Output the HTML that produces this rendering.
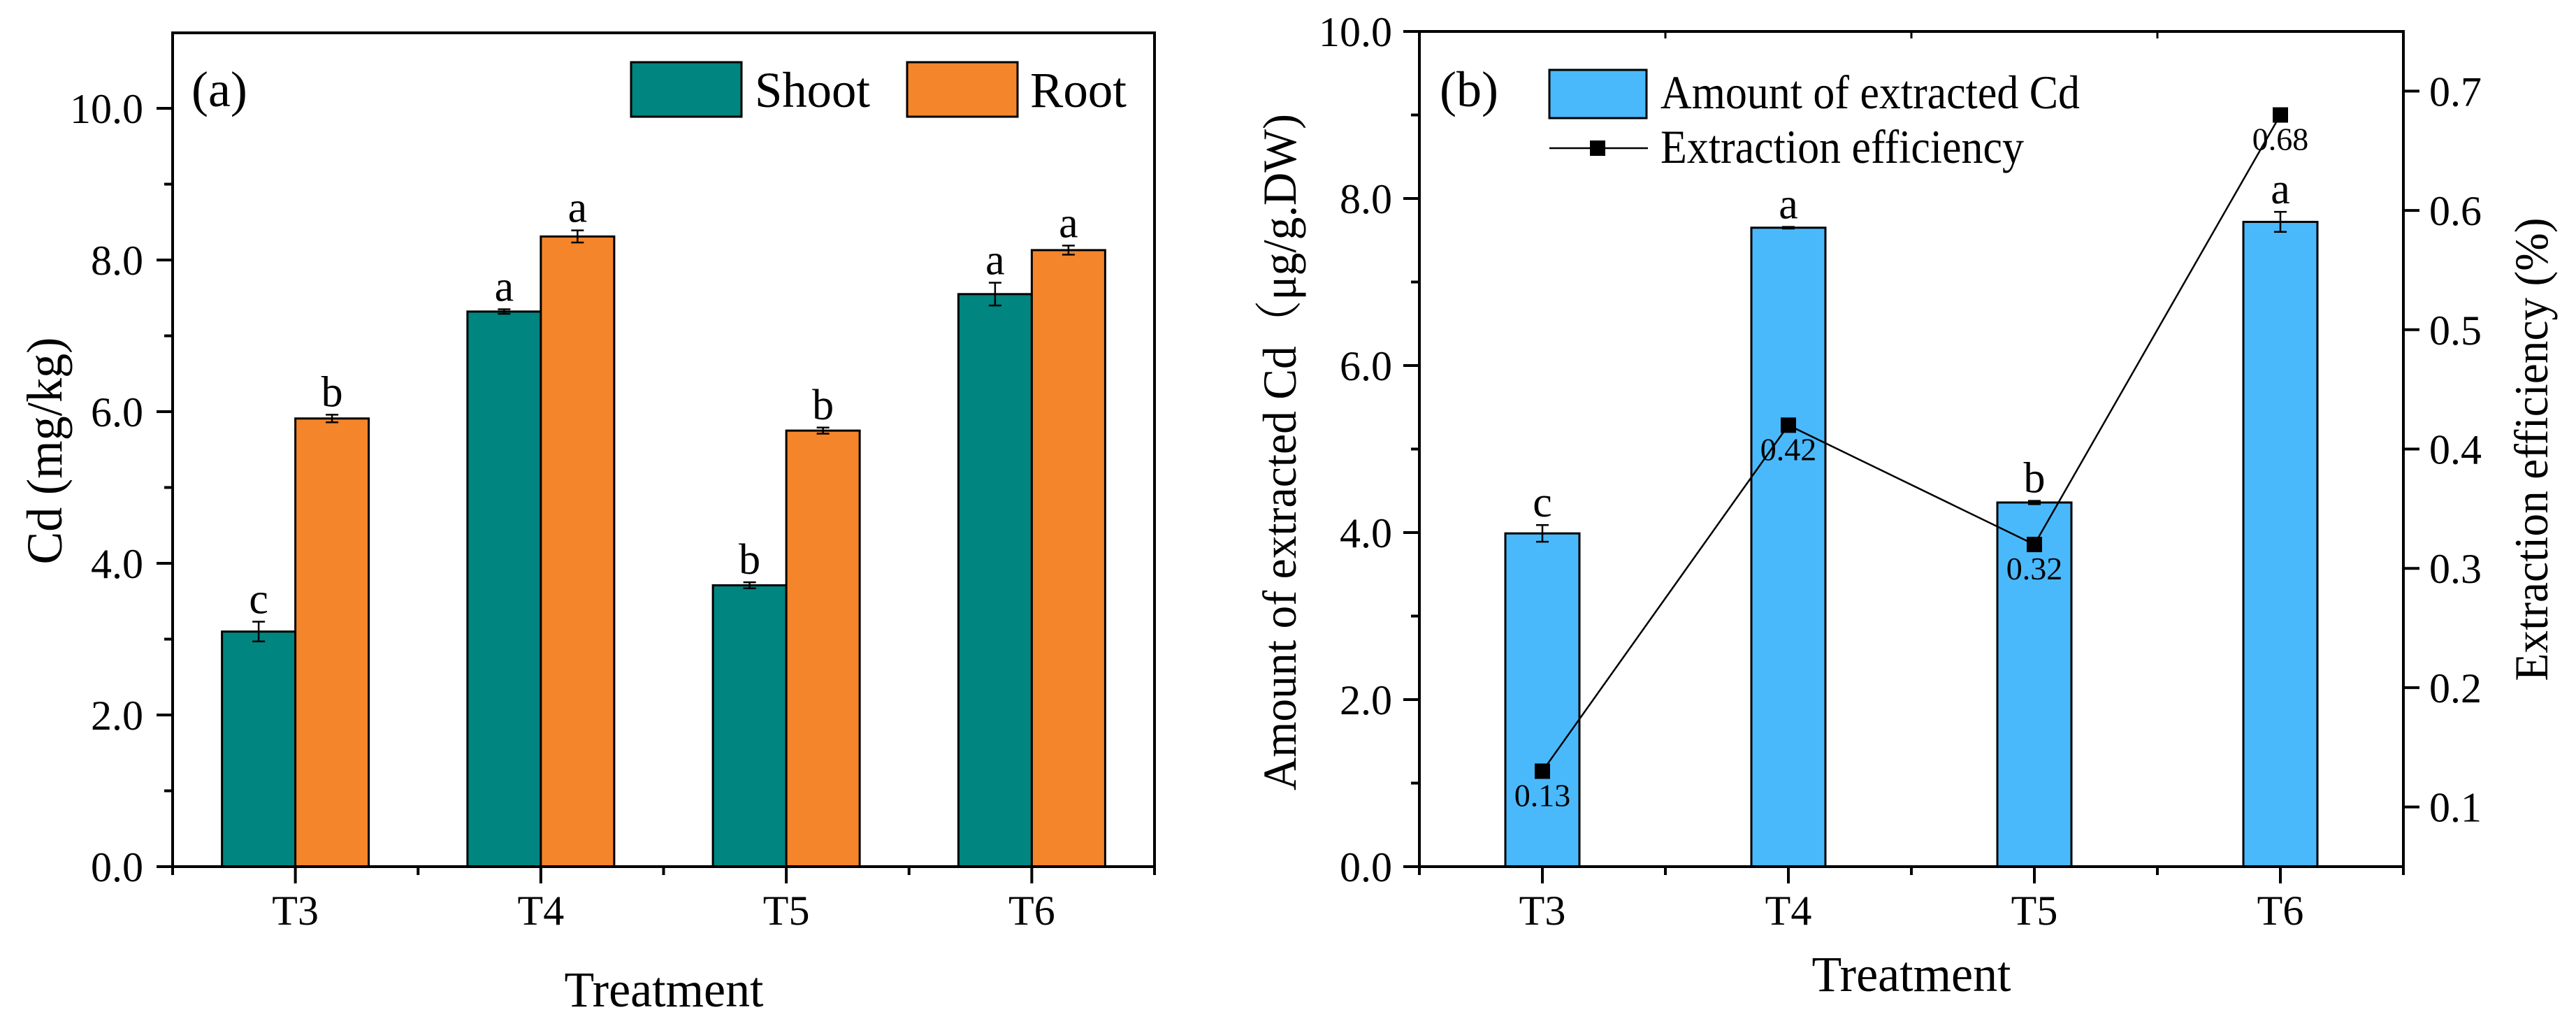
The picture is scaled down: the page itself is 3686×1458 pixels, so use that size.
<!DOCTYPE html>
<html><head><meta charset="utf-8">
<style>
html,body{margin:0;padding:0;background:#fff;}
svg{display:block;}
text{font-family:"Liberation Serif","Noto Serif CJK SC",serif;fill:#000;}
</style></head>
<body>
<svg id="chart" width="3686" height="1458" viewBox="0 0 3686 1458" xmlns="http://www.w3.org/2000/svg" font-family="Liberation Serif, Noto Serif CJK SC, serif">
<rect width="3686" height="1458" fill="#fff"/>
<g id="pa"></g>
<g id="pb"></g>
</svg>
<script>
// ---- data ----
const categories = ["T3","T4","T5","T6"];
const shootValues = [3.10, 7.32, 3.71, 7.55];
const shootErrors = [0.13, 0.03, 0.04, 0.15];
const shootLetters = ["c","a","b","a"];
const rootValues = [5.91, 8.31, 5.75, 8.13];
const rootErrors = [0.05, 0.08, 0.04, 0.06];
const rootLetters = ["b","a","b","a"];
const extractedValues = [3.99, 7.65, 4.36, 7.72];
const extractedErrors = [0.10, 0.01, 0.02, 0.12];
const extractedLetters = ["c","a","b","a"];
const efficiencyValues = [0.13, 0.42, 0.32, 0.68];
const efficiencyLabels = ["0.13","0.42","0.32","0.68"];
const aTicks = ["0.0","2.0","4.0","6.0","8.0","10.0"];
const bTicks = ["0.0","2.0","4.0","6.0","8.0","10.0"];
const bRightTicks = ["0.1","0.2","0.3","0.4","0.5","0.6","0.7"];

const NS="http://www.w3.org/2000/svg";
const FF='"Liberation Serif","Noto Serif CJK SC",serif';
function mk(parent,tag,attrs,txt){const e=document.createElementNS(NS,tag);for(const k in attrs)e.setAttribute(k,attrs[k]);if(txt!==undefined){e.textContent=txt;e.style.fontFamily=FF;}parent.appendChild(e);return e;}

const BOT=1240, AXW=4;
function drawAxesFrame(g,L,R,T,xf){
  categories.forEach((c,i)=>{
    const x=xf(i);
    const t=mk(g,'line',{x1:x,y1:BOT,x2:x,y2:BOT+24,stroke:'#000','stroke-width':AXW});
    
    
    const lb=mk(g,'text',{x:x,y:1323,'font-size':60,'text-anchor':'middle'},c);
    
    
  });
  for(let i=0;i<=4;i++){
    const x=xf(i-0.5);
    const t=mk(g,'line',{x1:x,y1:BOT,x2:x,y2:BOT+12,stroke:'#000','stroke-width':AXW});
    
    
  }
  const f=mk(g,'rect',{x:L,y:T,width:R-L,height:BOT-T,fill:'none',stroke:'#000','stroke-width':AXW});
  
  
}

// ---- panel a ----
(function(){
  const g=document.getElementById('pa');
  const L=247,R=1652,T=47, unit=(R-L)/4;
  const xf=i=>L+unit*(i+0.5);
  const yf=v=>BOT-v*108.5;
  const bw=105;
  for(let v=0;v<=10;v++){
    const y=yf(v), major=v%2===0;
    const t=mk(g,'line',{x1:L,y1:y,x2:L-(major?23:12),y2:y,stroke:'#000','stroke-width':AXW});
    
    
  }
  aTicks.forEach((s,i)=>{
    const lb=mk(g,'text',{x:205,y:yf(parseFloat(s))+21,'font-size':60,'text-anchor':'end'},s);
    
    
  });
  function bars(vals,errs,lets,off,color,name){
    vals.forEach((v,i)=>{
      const x0=xf(i)+off;
      const r=mk(g,'rect',{x:x0,y:yf(v),width:bw,height:BOT-yf(v),fill:color,stroke:'#000','stroke-width':3});
      
      
      const cx=x0+bw/2, y1=yf(v+errs[i]), y2=yf(v-errs[i]);
      const e=mk(g,'path',{d:`M${cx},${y1}V${y2}M${cx-9},${y1}H${cx+9}M${cx-9},${y2}H${cx+9}`,stroke:'#000','stroke-width':2.5,fill:'none'});
      
      
      const lt=mk(g,'text',{x:cx,y:y1-12,'font-size':62,'text-anchor':'middle'},lets[i]);
      
      
    });
  }
  bars(shootValues,shootErrors,shootLetters,-bw,'#008580','shoot');
  bars(rootValues,rootErrors,rootLetters,0,'#f5852a','root');
  drawAxesFrame(g,L,R,T,xf);
  const lbl=mk(g,'text',{x:274,y:152,'font-size':72},'(a)');
  
  
  const l1=mk(g,'rect',{x:903,y:89,width:158,height:78,fill:'#008580',stroke:'#000','stroke-width':3});
  
  
  const t1=mk(g,'text',{x:1080,y:153,'font-size':72,textLength:165,lengthAdjust:'spacingAndGlyphs'},'Shoot');
  
  
  const l2=mk(g,'rect',{x:1298,y:89,width:158,height:78,fill:'#f5852a',stroke:'#000','stroke-width':3});
  
  
  const t2=mk(g,'text',{x:1474,y:153,'font-size':72,textLength:138,lengthAdjust:'spacingAndGlyphs'},'Root');
  
  
  const xt=mk(g,'text',{x:950,y:1440,'font-size':72,'text-anchor':'middle',textLength:285,lengthAdjust:'spacingAndGlyphs'},'Treatment');
  
  
  const yt=mk(g,'text',{x:0,y:0,'font-size':72,'text-anchor':'middle',transform:'translate(88,645) rotate(-90)',textLength:325,lengthAdjust:'spacingAndGlyphs'},'Cd (mg/kg)');
  
  
})();

// ---- panel b ----
(function(){
  const g=document.getElementById('pb');
  const L=2031,R=3439,T=45, unit=(R-L)/4;
  const xf=i=>L+unit*(i+0.5);
  const yf=v=>BOT-v*119.5;
  const yr=v=>BOT-(v-0.05)*((BOT-T)/0.70);
  const bw=106;
  for(let v=0;v<=10;v++){
    const y=yf(v), major=v%2===0;
    const t=mk(g,'line',{x1:L,y1:y,x2:L-(major?23:12),y2:y,stroke:'#000','stroke-width':AXW});
    
    
  }
  bTicks.forEach(s=>{
    const lb=mk(g,'text',{x:1992,y:yf(parseFloat(s))+21,'font-size':60,'text-anchor':'end'},s);
    
    
  });
  bRightTicks.forEach(s=>{
    const y=yr(parseFloat(s));
    const t=mk(g,'line',{x1:R,y1:y,x2:R+23,y2:y,stroke:'#000','stroke-width':AXW});
    
    
    const lb=mk(g,'text',{x:3476,y:y+21,'font-size':60},s);
    
    
  });
  extractedValues.forEach((v,i)=>{
    const x0=xf(i)-bw/2;
    const r=mk(g,'rect',{x:x0,y:yf(v),width:bw,height:BOT-yf(v),fill:'#4ab9fb',stroke:'#000','stroke-width':3});
    
    
    const cx=xf(i), y1=yf(v+extractedErrors[i]), y2=yf(v-extractedErrors[i]);
    const e=mk(g,'path',{d:`M${cx},${y1}V${y2}M${cx-9},${y1}H${cx+9}M${cx-9},${y2}H${cx+9}`,stroke:'#000','stroke-width':2.5,fill:'none'});
    
    
    const lt=mk(g,'text',{x:cx,y:y1-12,'font-size':62,'text-anchor':'middle'},extractedLetters[i]);
    
    
  });
  const pts=efficiencyValues.map((v,i)=>xf(i)+','+yr(v)).join(' ');
  const pl=mk(g,'polyline',{points:pts,fill:'none',stroke:'#000','stroke-width':2.5});
  
  
  efficiencyValues.forEach((v,i)=>{
    const x=xf(i),y=yr(v);
    const m=mk(g,'rect',{x:x-11,y:y-11,width:22,height:22,fill:'#000'});
    
    
    const lb=mk(g,'text',{x:x,y:y+50,'font-size':46,'text-anchor':'middle'},efficiencyLabels[i]);
    
    
  });
  for(let i=1;i<4;i++){
    const x=L+unit*i;
    const t=mk(g,'line',{x1:x,y1:T,x2:x,y2:T+10,stroke:'#000','stroke-width':3});
    
    
  }
  drawAxesFrame(g,L,R,T,xf);
  const lbl=mk(g,'text',{x:2060,y:152,'font-size':72},'(b)');
  
  
  const l1=mk(g,'rect',{x:2217,y:100,width:139,height:69,fill:'#4ab9fb',stroke:'#000','stroke-width':3});
  
  
  const t1=mk(g,'text',{x:2376,y:155,'font-size':68,textLength:600,lengthAdjust:'spacingAndGlyphs'},'Amount of extracted Cd');
  
  
  const ll=mk(g,'line',{x1:2217,y1:212,x2:2358,y2:212,stroke:'#000','stroke-width':2.5});
  
  
  const lm=mk(g,'rect',{x:2275,y:201,width:22,height:22,fill:'#000'});
  
  
  const t2=mk(g,'text',{x:2376,y:233,'font-size':68,textLength:520,lengthAdjust:'spacingAndGlyphs'},'Extraction efficiency');
  
  
  const xt=mk(g,'text',{x:2735,y:1418,'font-size':72,'text-anchor':'middle',textLength:285,lengthAdjust:'spacingAndGlyphs'},'Treatment');
  
  
  const yt=mk(g,'text',{x:0,y:0,'font-size':68,'text-anchor':'middle',transform:'translate(1854,647) rotate(-90)',textLength:968,lengthAdjust:'spacingAndGlyphs'},'Amount of extracted Cd（μg/g.DW)');
  
  
  const yt2=mk(g,'text',{x:0,y:0,'font-size':68,'text-anchor':'middle',transform:'translate(3645,643) rotate(-90)',textLength:663,lengthAdjust:'spacingAndGlyphs'},'Extraction efficiency (%)');
  
  
})();
</script>
</body></html>
